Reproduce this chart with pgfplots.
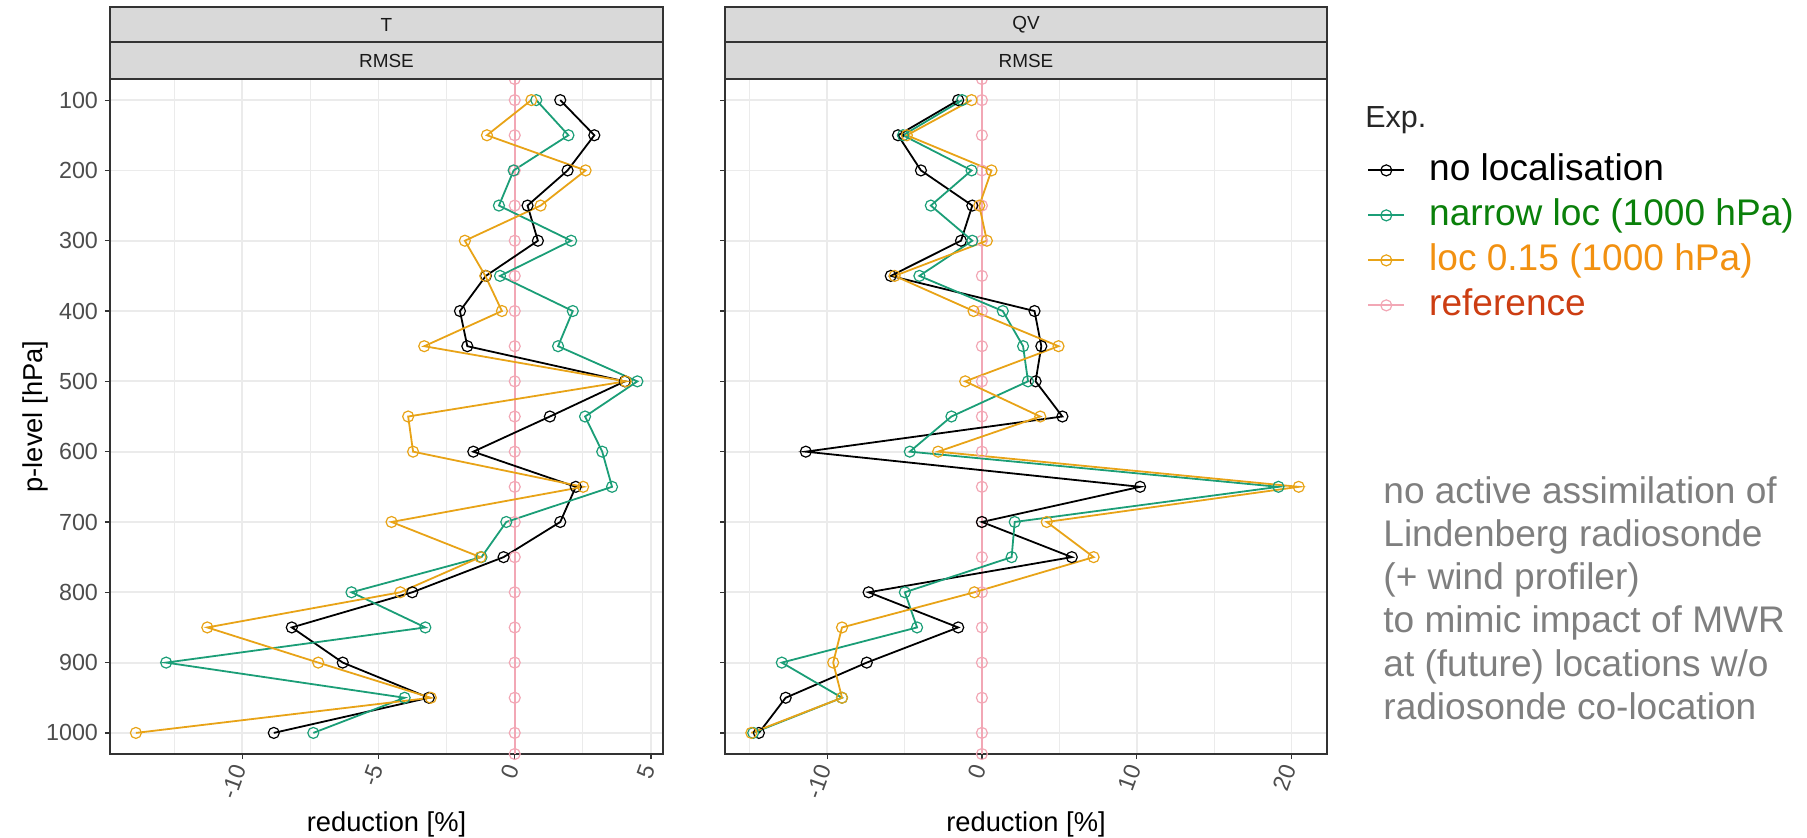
\documentclass[border=0pt]{standalone}
\usepackage{pgfplots}
\pgfplotsset{compat=1.18}
\usepackage{pgfplotstable}
\usepackage{fontspec}
\setmainfont{Liberation Sans}

\definecolor{cNo}{HTML}{000000}
\definecolor{cNar}{HTML}{1B9E77}
\definecolor{cLoc}{HTML}{E8A317}
\definecolor{cRef}{HTML}{F2A7B5}
\definecolor{gridc}{HTML}{EBEBEB}
\definecolor{framec}{HTML}{333333}
\definecolor{tickc}{HTML}{4D4D4D}
\definecolor{stripc}{HTML}{D9D9D9}
\definecolor{txtG}{HTML}{0A800A}
\definecolor{txtO}{HTML}{F29111}
\definecolor{txtR}{HTML}{CC3D12}
\definecolor{noteg}{HTML}{7F7F7F}

% RMSE reduction [%] per pressure level
\pgfplotstableread{
lev  noloc  narrow  loc
100   1.67   0.79   0.61
150   2.92   1.97  -1.02
200   1.94  -0.04   2.60
250   0.47  -0.58   0.95
300   0.85   2.07  -1.83
350  -1.06  -0.54  -1.08
400  -2.01   2.13  -0.47
450  -1.74   1.59  -3.32
500   4.04   4.50   4.07
550   1.29   2.58  -3.91
600  -1.52   3.21  -3.73
650   2.24   3.57   2.51
700   1.67  -0.31  -4.52
750  -0.41  -1.22  -1.26
800  -3.76  -5.99  -4.20
850  -8.18  -3.28 -11.28
900  -6.31 -12.79  -7.21
950  -3.15  -4.04  -3.08
1000 -8.84  -7.39 -13.90
}\tT

\pgfplotstableread{
lev  noloc  narrow  loc
100  -1.53  -1.28  -0.67
150  -5.42  -5.10  -4.85
200  -3.94  -0.67   0.62
250  -0.62  -3.30  -0.17
300  -1.35  -0.62   0.32
350  -5.89  -4.04  -5.64
400   3.40   1.35  -0.54
450   3.84   2.66   4.95
500   3.47   2.98  -1.08
550   5.20  -1.97   3.77
600 -11.38  -4.66  -2.83
650  10.22  19.16  20.47
700   0.00   2.12   4.19
750   5.81   1.92   7.22
800  -7.32  -4.98  -0.49
850  -1.53  -4.19  -9.04
900  -7.44 -12.93  -9.61
950 -12.68  -9.04  -9.04
1000 -14.41 -14.78 -14.90
}\tQV

\pgfplotsset{
  prof/.style={
    scale only axis, height=337.5bp,
    y dir=reverse, ymin=70, ymax=1030,
    ytick={100,200,...,1000},
    xmajorgrids, xminorgrids, ymajorgrids,
    major grid style={gridc, line width=0.9bp},
    minor grid style={gridc, line width=0.5bp},
    axis line style={framec, line width=0.7bp},
    tick style={framec, line width=0.6bp},
    tick align=outside, major tick length=2.5bp, minor tick length=0pt,
    xtick pos=bottom, ytick pos=left,
    tick label style={font=\fontsize{11.7}{14}\selectfont, text=tickc},
    xticklabel style={rotate=70, anchor=east},
    /pgf/number format/assume math mode=true,
    /pgf/number format/1000 sep={},
    label style={font=\fontsize{13.7}{16}\selectfont, text=black},
    xlabel style={at={(axis description cs:0.5,-0.104)}, anchor=center},
    every axis plot/.append style={line width=0.9bp, mark=o, mark size=2.75bp,
      mark options={solid, line width=0.6bp}},
  },
}

\begin{document}
\begin{tikzpicture}
\useasboundingbox (0,0) rectangle (903.5bp,419bp);

\begin{axis}[prof, at={(55bp,42bp)}, anchor=south west, width=276.5bp,
  xmin=-14.85, xmax=5.44,
  xtick={-10,-5,0,5}, minor xtick={-12.5,-7.5,-2.5,2.5},
  xlabel={reduction [\%]}, ylabel={p-level [hPa]},
  ylabel style={at={(axis description cs:-0.1356,0.5)}, anchor=center}]
  \addplot[cRef] coordinates {(0,70) (0,1030)};
  \addplot[cRef, only marks] table[x=loc, y=lev, x expr=0] {\tT};
  \addplot[cNo] table[x=noloc, y=lev] {\tT};
  \addplot[cNar] table[x=narrow, y=lev] {\tT};
  \addplot[cLoc] table[x=loc, y=lev] {\tT};
\end{axis}

\begin{axis}[prof, at={(362.5bp,42bp)}, anchor=south west, width=301bp,
  xmin=-16.6, xmax=22.3,
  xtick={-10,0,10,20}, minor xtick={-15,-5,5,15},
  yticklabels={}, xlabel={reduction [\%]},
  legend style={at={(axis description cs:1.0664,0.8919)}, anchor=north west,
    draw=none, fill=none, inner sep=0pt, column sep=12bp, row sep=4.5bp,
    nodes={inner sep=0pt, text height=14bp, text depth=4bp,
      font=\fontsize{18.6}{22}\selectfont}},
  legend cell align=left,
  legend image code/.code={\draw[mark repeat=2, mark phase=2, #1]
    plot coordinates {(0bp,0bp) (9bp,0bp) (18bp,0bp)};}]
  \addplot[cRef, forget plot] coordinates {(0,70) (0,1030)};
  \addplot[cRef, only marks, forget plot] table[x=loc, y=lev, x expr=0] {\tQV};
  \addplot[cNo, forget plot] table[x=noloc, y=lev] {\tQV};
  \addplot[cNar, forget plot] table[x=narrow, y=lev] {\tQV};
  \addplot[cLoc, forget plot] table[x=loc, y=lev] {\tQV};
  \addlegendimage{cNo, line width=0.9bp, mark=o, mark size=2.75bp, mark options={solid, line width=0.6bp}}
  \addlegendentry{no localisation}
  \addlegendimage{cNar, line width=0.9bp, mark=o, mark size=2.75bp, mark options={solid, line width=0.6bp}}
  \addlegendentry{\textcolor{txtG}{narrow loc (1000 hPa)}}
  \addlegendimage{cLoc, line width=0.9bp, mark=o, mark size=2.75bp, mark options={solid, line width=0.6bp}}
  \addlegendentry{\textcolor{txtO}{loc 0.15 (1000 hPa)}}
  \addlegendimage{cRef, line width=0.9bp, mark=o, mark size=2.75bp, mark options={solid, line width=0.6bp}}
  \addlegendentry{\textcolor{txtR}{reference}}
\end{axis}

% facet strips
\foreach \xa/\xb/\lab in {55/331.5/T, 362.5/663.5/QV} {
  \filldraw[fill=stripc, draw=framec, line width=0.7bp]
    (\xa bp,379.5bp) rectangle (\xb bp,415.5bp);
  \draw[framec, line width=0.7bp] (\xa bp,398bp) -- (\xb bp,398bp);
  \node[font=\fontsize{9.5}{11}\selectfont, text=black!90] at ({(\xa+\xb)/2*1bp},406.75bp) {\lab};
  \node[font=\fontsize{9.5}{11}\selectfont, text=black!90] at ({(\xa+\xb)/2*1bp},388.75bp) {RMSE};
}

\node[anchor=west, inner sep=0pt, font=\fontsize{15.3}{18}\selectfont, text=black!85]
  at (682.5bp,359bp) {Exp.};

\node[anchor=north west, inner sep=0pt, align=left, text=noteg,
  font=\fontsize{18.6}{21.7}\selectfont] at (691.5bp,181.1bp)
  {no active assimilation of\\Lindenberg radiosonde\\(+ wind profiler)\\to mimic impact of MWR\\at (future) locations w/o\\radiosonde co-location};
\end{tikzpicture}
\end{document}
